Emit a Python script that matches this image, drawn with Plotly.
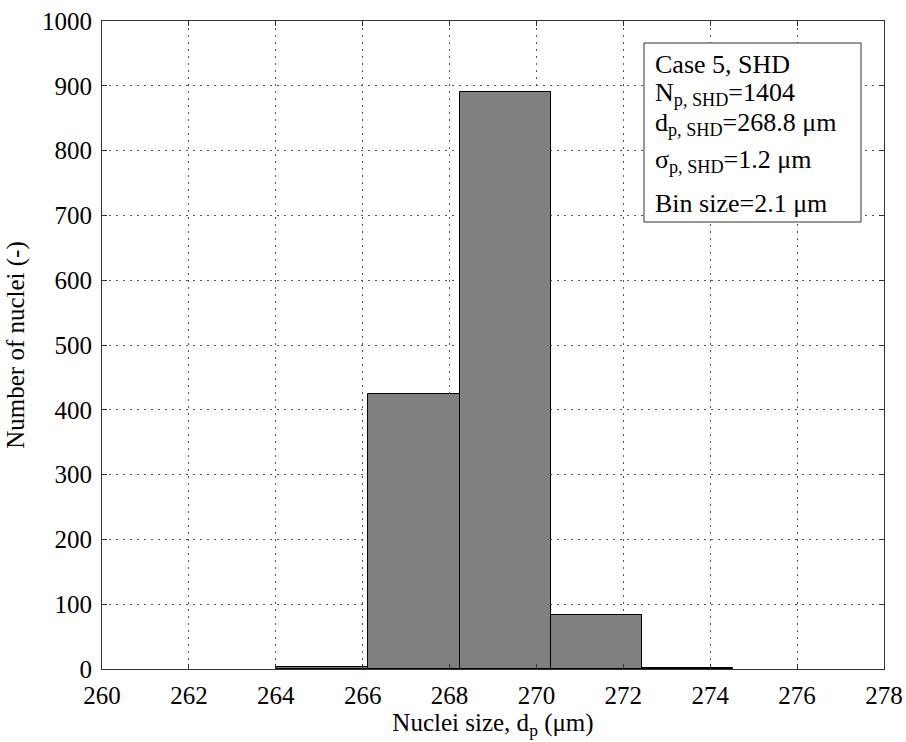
import plotly.graph_objects as go

bin_centers = [265.08, 267.18, 269.28, 271.38, 273.48]
counts = [3, 424, 891, 84, 2]
bin_width = 2.1
x_ticks = list(range(260, 279, 2))
y_ticks = list(range(0, 1001, 100))
info_lines = [
    "Case 5, SHD",
    "N<sub>p, SHD</sub>=1404",
    "d<sub>p, SHD</sub>=268.8 μm",
    "σ<sub>p, SHD</sub>=1.2 μm",
    "Bin size=2.1 μm",
]

font_family = "Liberation Serif, Times New Roman, serif"

W, H = 906, 742
L, R, T, B = 102, 22, 21, 73
PW, PH = W - L - R, H - T - B


def px_x(px):
    return (px - L) / PW


def px_y(py):
    return 1 - (py - T) / PH


fig = go.Figure()
fig.add_trace(go.Bar(
    x=bin_centers, y=counts, width=[bin_width] * len(counts),
    marker=dict(color="#808080", line=dict(color="black", width=1)),
    showlegend=False,
))

axis_common = dict(
    showline=True, linecolor="#333333", linewidth=1, mirror="ticks",
    ticks="inside", ticklen=5, tickcolor="#333333",
    showgrid=True, gridcolor="#555555", griddash="2px,5px", gridwidth=1,
    zeroline=False, automargin=False,
    tickfont=dict(family=font_family, size=25, color="black"),
)

fig.update_layout(
    width=W, height=H,
    margin=dict(l=L, r=R, t=T, b=B),
    paper_bgcolor="white", plot_bgcolor="white",
    font=dict(family=font_family, color="black"),
    bargap=0,
    xaxis=dict(range=[260, 278], tickvals=x_ticks, ticklabelstandoff=4,
               title=dict(text="Nuclei size, d<sub>p</sub> (μm)", font=dict(size=25), standoff=0),
               **axis_common),
    yaxis=dict(range=[0, 1000], tickvals=y_ticks, ticklabelstandoff=4,
               title=dict(text="Number of nuclei (-)", font=dict(size=25), standoff=10),
               **axis_common),
)

# info box
fig.add_shape(type="rect", xref="paper", yref="paper",
              x0=px_x(644), x1=px_x(861), y0=px_y(43), y1=px_y(222),
              line=dict(color="#333333", width=1), fillcolor="white", layer="above")

line_centers = [65, 94, 124, 161, 203]
for txt, cy in zip(info_lines, line_centers):
    fig.add_annotation(
        xref="paper", yref="paper", x=px_x(653), y=px_y(cy),
        xanchor="left", yanchor="middle", align="left",
        text=txt, showarrow=False,
        font=dict(family=font_family, size=26, color="black"),
    )

fig.write_html("out.html")
